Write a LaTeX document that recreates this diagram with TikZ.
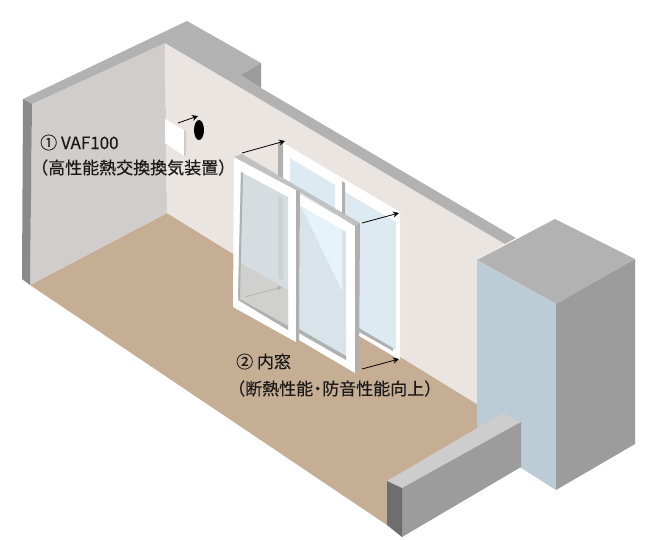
\documentclass[tikz,border=0pt]{standalone}
\usepackage{fontspec}
\setmainfont[RawFeature={embolden=0.35}]{Noto Sans CJK JP}
\usepackage{xcolor}
\usepackage{tikz}
\usetikzlibrary{arrows.meta,positioning}
\definecolor{BackWall}{HTML}{EAE5E1}
\definecolor{SideWall}{HTML}{D0CDCA}
\definecolor{WallTop}{HTML}{B2B2B2}
\definecolor{WallEnd}{HTML}{8A8A8A}
\definecolor{Notch}{HTML}{9C9C9C}
\definecolor{Floor}{HTML}{C6AE94}
\definecolor{TowerFace}{HTML}{BCCCD6}
\definecolor{LowTop}{HTML}{CDCDCD}
\definecolor{LowEnd}{HTML}{6E6E6E}
\definecolor{Sash}{HTML}{FFFFFF}
\definecolor{Glass}{HTML}{DDEAF1}
\definecolor{GlassFront}{HTML}{D8E4EA}
\definecolor{GlassGrey}{HTML}{D5DDE0}
\definecolor{Shine}{HTML}{E6F4FA}
\definecolor{Seen}{HTML}{D0D0CE}
\definecolor{Rail}{HTML}{B0B0B0}
\definecolor{Ink}{HTML}{1A1A1A}
\tikzset{
  face/.style={fill=#1,draw=none},
  pointer/.style={-{Stealth[length=6pt,width=6pt]},line width=0.8pt,draw=black},
  caption/.style={font=\fontsize{17}{20}\selectfont,text=Ink,inner sep=0pt,anchor=base west}
}
\begin{document}
\begin{tikzpicture}[x=1pt,y=-1pt]
  \useasboundingbox[fill=white] (0,0) rectangle (661,539);
  % room
  \fill[face=Floor] (167,213) -- (477,404) -- (477,432) -- (387,481) -- (387,525) -- (30,285) -- cycle;
  \fill[face=SideWall] (32,104) -- (165,43) -- (167,213) -- (30,285) -- cycle;
  \fill[face=BackWall] (165,43) -- (505,244) -- (477,260) -- (477,404) -- (167,213) -- cycle;
  \fill[face=WallTop] (23,99) -- (187,21) -- (261,63) -- (241,75) -- (261,88) -- (516,238) -- (505,244) -- (165,43) -- (32,104) -- cycle;
  \fill[face=Notch] (241,75) -- (261,63) -- (261,88) -- cycle;
  \fill[face=WallEnd] (23,99) -- (32,104) -- (30,285) -- (22,279) -- cycle;
  % tower
  \fill[face=WallTop] (477,260) -- (555,219) -- (635,259) -- (556,304) -- cycle;
  \fill[face=TowerFace] (477,260) -- (556,304) -- (556,490) -- (477,440) -- cycle;
  \fill[face=Notch] (556,304) -- (635,259) -- (635,444) -- (556,490) -- cycle;
  % low wall
  \fill[face=LowTop] (387,481) -- (503,413) -- (521,422) -- (402,488) -- cycle;
  \fill[face=Notch] (402,488) -- (521,422) -- (521,467) -- (402,537) -- cycle;
  \fill[face=LowEnd] (387,481) -- (402,488) -- (402,537) -- (387,525) -- cycle;
  % vent
  \fill[face=Sash] (165,119) -- (184,130) -- (184,156) -- (165,143) -- cycle;
  \fill[face=LowTop] (184,130) -- (186,131) -- (186,155) -- (184,156) -- cycle;
  \fill[black] (199,130) ellipse (5 and 10);
  % rear sashes
  \fill[face=Sash] (283,143) -- (400,212) -- (400,360) -- (283,291) -- cycle;
  \fill[face=Rail] (278,142) -- (283,143) -- (283,291) -- (278,289) -- cycle;
  \fill[face=Glass] (290,158) -- (335,185) -- (335,300) -- (290,275) -- cycle;
  \fill[face=Glass] (345,192) -- (396,222) -- (396,350) -- (345,320) -- cycle;
  \fill[face=Rail] (359,328) -- (393,348) -- (393,351) -- (359,332) -- cycle;
  \fill[face=Rail] (342,181) -- (345,183) -- (345,215) -- (342,213) -- cycle;
  % front left sash
  \fill[face=Sash] (234,157) -- (296,190) -- (296,342) -- (233,307) -- cycle;
  \fill[face=GlassGrey] (241,172) -- (288,197) -- (288,329) -- (238,298) -- cycle;
  \fill[face=Seen] (241,263) -- (288,290) -- (288,329) -- (238,298) -- cycle;
  \fill[face=LowTop!80!GlassGrey] (278,196) -- (283,199) -- (283,280) -- (278,278) -- cycle;
  \fill[face=Rail] (238,298) -- (288,326) -- (288,330) -- (238,300) -- cycle;
  \fill[face=Rail] (241,172) -- (243,173) -- (240,298) -- (238,298) -- cycle;
  % front right sash
  \fill[face=Sash] (299,194) -- (355,226) -- (355,373) -- (299,340) -- cycle;
  \fill[face=GlassFront] (300,206) -- (346,232) -- (346,360) -- (299,333) -- cycle;
  \fill[face=Shine] (301,206) -- (342,230) -- (342,291) -- cycle;
  \fill[face=Rail] (299,329) -- (346,356) -- (346,360) -- (299,333) -- cycle;
  % top rails and ends
  \fill[face=LowTop!60!Rail] (234,157) -- (242,154) -- (360,223) -- (355,226) -- (296,190) -- cycle;
  \fill[face=Rail] (296,190) -- (300,190) -- (299,342) -- (296,342) -- cycle;
  \fill[face=Rail] (355,226) -- (360,223) -- (359,370) -- (355,373) -- cycle;
  % pointers
  \coordinate (ventfrom) at (178,123);
  \coordinate (ventto) at (198,116);
  \coordinate (topfrom) at (242,153);
  \coordinate (topto) at (285,141);
  \coordinate (rightfrom) at (362,223);
  \coordinate (rightto) at (399,213);
  \coordinate (sillfrom) at (362,369);
  \coordinate (sillto) at (399,359);
  \coordinate (seenfrom) at (245,297);
  \coordinate (seento) at (282,287);
  \draw[pointer] (ventfrom) -- (ventto);
  \draw[pointer] (topfrom) -- (topto);
  \draw[pointer] (rightfrom) -- (rightto);
  \draw[pointer] (sillfrom) -- (sillto);
  \draw[pointer,draw=Rail,-{Stealth[length=5pt,width=5pt,color=Rail]}] (seenfrom) -- (seento);
  % labels
  \node[caption] (vafname) at (40,149) {① VAF100};
  \node[caption] (vafnote) at (31,174) {（高性能熱交換換気装置）};
  \node[caption] (sashname) at (236,368) {② 内窓};
  \node[caption] (sashnote) at (228,395) {（断熱性能\hspace{-4pt}・\hspace{-4pt}防音性能向上）};
\end{tikzpicture}
\end{document}
